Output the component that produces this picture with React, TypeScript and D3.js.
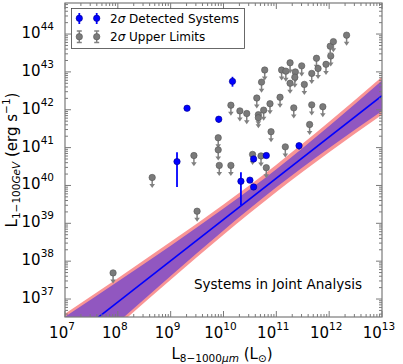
import React from 'react'
import * as d3 from 'd3'

// log10 values
const detLogLir = [9.12, 9.31, 9.91, 10.17, 10.33, 10.5, 10.57, 10.57, 10.81, 11.43]
const detLogLg = [40.63, 42.04, 41.75, 42.75, 40.11, 40.14, 39.96, 40.7, 40.79, 41.05]
const detErrUp = [0.25, 0, 0.07, 0.12, 0.24, 0, 0, 0, 0, 0.08]
const detErrDn = [0.67, 0, 0.09, 0.14, 0.63, 0, 0, 0, 0, 0.1]

const ulLogLir = [7.91, 8.65, 9.44, 9.5, 9.9, 9.9, 9.92, 10.14, 10.14, 10.31, 10.44, 10.55, 10.66, 10.66, 10.63, 10.71, 10.72, 10.76, 10.78, 10.81, 10.88, 10.9, 11.07, 11.1, 11.17, 11.18, 11.26, 11.26, 11.33, 11.36, 11.35, 11.48, 11.53, 11.63, 11.67, 11.67, 11.76, 11.79, 11.88, 11.94, 12.03, 12.02, 12.08, 12.33]
const ulLogLg = [37.69, 40.21, 40.79, 39.32, 41.26, 40.94, 40.53, 40.53, 42.12, 41.97, 41.9, 40.82, 41.87, 41.79, 42.31, 40.78, 42.73, 41.99, 43.05, 40.47, 42.16, 41.42, 42.33, 43.05, 41.02, 43.02, 43.24, 42.7, 42.05, 43.0, 42.86, 43.16, 42.67, 41.61, 42.96, 42.13, 43.36, 43.09, 42.08, 43.2, 43.42, 43.68, 43.8, 43.97]
const ulArrow = 0.28

// fit: log Lg = fitIntercept + fitSlope * (log Lir - 10)
const fitSlope = 1.09
const fitIntercept = 39.1
const bandLogLir = [7, 8, 9, 10, 11, 12, 13]
const bandInner = [0.7, 0.54, 0.4, 0.29, 0.24, 0.29, 0.4]
const bandOuter = [0.78, 0.63, 0.5, 0.4, 0.36, 0.4, 0.5]

const xDecades = [7, 8, 9, 10, 11, 12, 13]
const yDecades = [37, 38, 39, 40, 41, 42, 43, 44]

const W = 403
const H = 364
const L = 65, R = 382, T = 3, B = 317
const axisCol = '#7a7a7a'
const font = 'DejaVu Sans'

export default function App() {
  const x = d3.scaleLog().domain([1e7, 1e13]).range([L, R])
  const y = d3.scaleLog().domain([Math.pow(10, 36.525), Math.pow(10, 44.82)]).range([B, T])
  const X = (lg: number) => x(Math.pow(10, lg))
  const Y = (lg: number) => y(Math.pow(10, lg))
  const fit = (lx: number) => fitIntercept + fitSlope * (lx - 10)

  const band = (half: number[]) =>
    d3.area<number>()
      .x((d) => X(d))
      .y0((d, i) => Y(fit(d) - half[i]))
      .y1((d, i) => Y(fit(d) + half[i]))
      .curve(d3.curveMonotoneX)(bandLogLir) || ''

  const minorX: number[] = []
  x.ticks().forEach((t) => { if (Math.abs(Math.log10(t) - Math.round(Math.log10(t))) > 1e-6) minorX.push(t) })
  const minorY: number[] = []
  y.ticks().forEach((t) => { if (Math.abs(Math.log10(t) - Math.round(Math.log10(t))) > 1e-6) minorY.push(t) })

  return (
    <div style={{ position: 'absolute', left: 0, top: 0 }}>
      <svg width={W} height={H} style={{ display: 'block', fontFamily: font }}>
        <rect width={W} height={H} fill="white" />
        <defs>
          <clipPath id="plot"><rect x={L} y={T} width={R - L} height={B - T} /></clipPath>
        </defs>
        <g clipPath="url(#plot)">
          <path d={band(bandOuter)} fill="#f99595" />
          <path d={band(bandInner)} fill="#9157c0" />
          <line x1={X(7)} y1={Y(fit(7))} x2={X(13)} y2={Y(fit(13))} stroke="#0000ff" strokeWidth={1.6} />
        </g>

        {/* upper limits */}
        {ulLogLir.map((lx, i) => {
          const cx = X(lx), cy = Y(ulLogLg[i]), ty = Y(ulLogLg[i] - ulArrow)
          return (
            <g key={'u' + i}>
              <line x1={cx} y1={cy} x2={cx} y2={ty - 2} stroke="#808080" strokeWidth={1.5} />
              <path d={`M${cx - 2.8},${ty - 4}L${cx + 2.8},${ty - 4}L${cx},${ty}Z`} fill="#808080" />
              <circle cx={cx} cy={cy} r={3.2} fill="#7a7a7a" stroke="#555" strokeWidth={0.6} />
            </g>
          )
        })}

        {/* detections */}
        {detLogLir.map((lx, i) => {
          const cx = X(lx), cy = Y(detLogLg[i])
          return (
            <g key={'d' + i}>
              {(detErrUp[i] > 0 || detErrDn[i] > 0) && (
                <line x1={cx} y1={Y(detLogLg[i] + detErrUp[i])} x2={cx} y2={Y(detLogLg[i] - detErrDn[i])} stroke="#0000ff" strokeWidth={1.8} />
              )}
              <circle cx={cx} cy={cy} r={3.2} fill="#0000ff" stroke="#00008b" strokeWidth={0.6} />
            </g>
          )
        })}

        {/* frame and ticks */}
        <rect x={L} y={T} width={R - L} height={B - T} fill="none" stroke={axisCol} strokeWidth={1.2} />
        {xDecades.map((d) => (
          <g key={'xd' + d}>
            <line x1={X(d)} x2={X(d)} y1={B} y2={B - 6} stroke={axisCol} />
            <line x1={X(d)} x2={X(d)} y1={T} y2={T + 6} stroke={axisCol} />
            <text x={X(d) - 3} y={338} fontSize={15} textAnchor="middle">
              10<tspan fontSize={10.5} dy={-8}>{d}</tspan>
            </text>
          </g>
        ))}
        {minorX.map((t, i) => (
          <g key={'xm' + i}>
            <line x1={x(t)} x2={x(t)} y1={B} y2={B - 3} stroke={axisCol} />
            <line x1={x(t)} x2={x(t)} y1={T} y2={T + 3} stroke={axisCol} />
          </g>
        ))}
        {yDecades.map((d) => (
          <g key={'yd' + d}>
            <line x1={L} x2={L + 6} y1={Y(d)} y2={Y(d)} stroke={axisCol} />
            <line x1={R} x2={R - 6} y1={Y(d)} y2={Y(d)} stroke={axisCol} />
            <text x={54} y={Y(d) + 4} fontSize={15} textAnchor="end">
              10<tspan fontSize={10.5} dy={-8}>{d}</tspan>
            </text>
          </g>
        ))}
        {minorY.map((t, i) => (
          <g key={'ym' + i}>
            <line x1={L} x2={L + 3} y1={y(t)} y2={y(t)} stroke={axisCol} />
            <line x1={R} x2={R - 3} y1={y(t)} y2={y(t)} stroke={axisCol} />
          </g>
        ))}

        {/* axis labels */}
        <text x={222} y={359} fontSize={15} textAnchor="middle">
          L<tspan fontSize={10.5} dy={3}>8−1000</tspan><tspan fontSize={10.5} fontStyle="italic">μm</tspan>
          <tspan dy={-3}> (L</tspan><tspan fontSize={10.5} dy={3}>⊙</tspan><tspan dy={-3}>)</tspan>
        </text>
        <text transform="translate(17,160) rotate(-90)" fontSize={15} textAnchor="middle">
          L<tspan fontSize={10.5} dy={3}>1−100</tspan><tspan fontSize={10.5} fontStyle="italic">GeV</tspan>
          <tspan dy={-3}> (erg s</tspan><tspan fontSize={10.5} dy={-7}>−1</tspan><tspan dy={7}>)</tspan>
        </text>

        <text x={194} y={288.5} fontSize={13.5}>Systems in Joint Analysis</text>

        {/* legend */}
        <rect x={71.5} y={8.5} width={173} height={40} fill="white" stroke="#444" strokeWidth={0.8} />
        {[79.3, 96.7].map((lx) => (
          <g key={'lg' + lx}>
            <line x1={lx} x2={lx} y1={13} y2={24} stroke="#0000ff" strokeWidth={1.8} />
            <circle cx={lx} cy={18.3} r={3.2} fill="#0000ff" stroke="#00008b" strokeWidth={0.6} />
            <line x1={lx} x2={lx} y1={31} y2={42.5} stroke="#808080" strokeWidth={1.5} />
            <line x1={lx - 2.5} x2={lx + 2.5} y1={31} y2={31} stroke="#808080" strokeWidth={1.5} />
            <line x1={lx - 2.5} x2={lx + 2.5} y1={42.5} y2={42.5} stroke="#808080" strokeWidth={1.5} />
            <circle cx={lx} cy={36.7} r={3.2} fill="#7a7a7a" stroke="#555" strokeWidth={0.6} />
          </g>
        ))}
        <text x={110} y={22.5} fontSize={12}>2<tspan fontStyle="italic">σ</tspan> Detected Systems</text>
        <text x={110} y={41} fontSize={12}>2<tspan fontStyle="italic">σ</tspan> Upper Limits</text>
      </svg>
    </div>
  )
}
